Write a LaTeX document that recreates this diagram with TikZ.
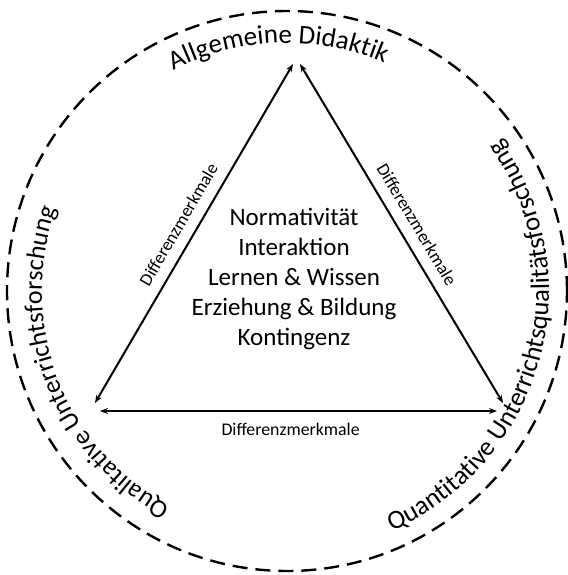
\documentclass[tikz,border=0pt]{standalone}
\usepackage{fontspec}
\setmainfont{Carlito}
\usetikzlibrary{arrows.meta,decorations.text}

\newcommand{\ringfont}{\fontsize{13}{15}\selectfont}
\newcommand{\topfont}{\fontsize{13.5}{15}\selectfont}
\newcommand{\edgefont}{\fontsize{8.9}{10}\selectfont}

\tikzset{
  ring/.style={line width=1.2pt, dash pattern=on 7.5pt off 4pt},
  link/.style={{Stealth[length=4pt,width=3pt]}-{Stealth[length=4pt,width=3pt]}, line width=1pt},
  diff/.style={font=\edgefont, sloped, above=2pt},
  ringtext/.style={decorate, decoration={text along path, text align=center, text={|\ringfont|#1}}}
}

\begin{document}
\begin{tikzpicture}[x=0.5pt,y=0.5pt]
 \useasboundingbox (0,0) rectangle (568,575);
 \coordinate (C) at (287,284);
 \draw[ring] (C) circle[radius=140pt];
 \coordinate (T1) at (293,511);
 \coordinate (T2) at (300,511);
 \coordinate (L1) at (95,172);
 \coordinate (L2) at (100,164);
 \coordinate (R1) at (503,172);
 \coordinate (R2) at (497,164);
 \draw[link] (L1) -- node[diff] (dl) {Differenzmerkmale} (T1);
 \draw[link] (T2) -- node[diff] (dr) {Differenzmerkmale} (R1);
 \draw[link] (L2) -- node[font=\edgefont, below=2pt, pos=0.48] (db) {Differenzmerkmale} (R2);
 \node[align=center, font=\fontsize{12.5}{15}\selectfont] (core) at (294,296)
   {Normativität\\Interaktion\\Lernen \& Wissen\\Erziehung \& Bildung\\Kontingenz};
 \path[decorate, decoration={text along path, text align=center, text={|\topfont|Allgemeine Didaktik}}]
   ([shift={(141:124pt)}]C) arc[start angle=141, end angle=43, radius=124pt];
 \path[ringtext={Qualitative Unterrichtsforschung}]
   ([shift={(263:122.5pt)}]C) arc[start angle=263, end angle=139, radius=122.5pt];
 \path[decorate, decoration={text along path, text align=center, text={|\fontsize{13.3}{15}\selectfont|Quantitative Unterrichtsqualitätsforschung}}]
   ([shift={(-80:131pt)}]C) arc[start angle=-80, end angle=49, radius=131pt];
\end{tikzpicture}
\end{document}
